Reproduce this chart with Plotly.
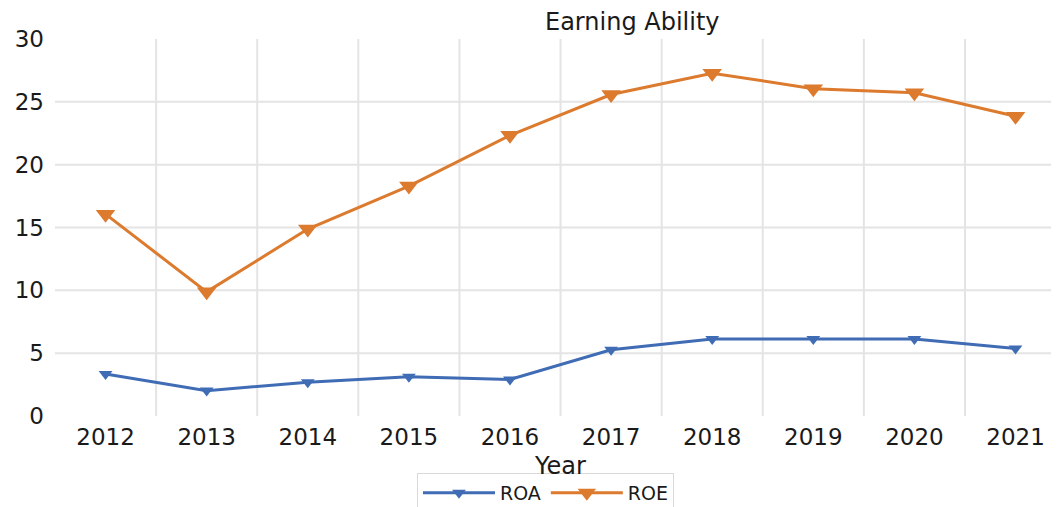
import plotly.graph_objects as go

years = ["2012", "2013", "2014", "2015", "2016", "2017", "2018", "2019", "2020", "2021"]
roa = [3.35, 2.02, 2.69, 3.12, 2.9, 5.27, 6.13, 6.13, 6.13, 5.38]
roe = [16.06, 9.88, 14.88, 18.3, 22.34, 25.58, 27.28, 26.05, 25.72, 23.85]
y_ticks = [0, 5, 10, 15, 20, 25, 30]

FONT = "DejaVu Sans"
TXT = "#1a1a1a"
BLUE = "#3F6CB4"
ORANGE = "#DC7A2E"
GRID = "#e4e4e4"

# page body has an 8px margin, so the figure is sized/offset to fill the window
W, H = 1051, 499
ML, MT, MB = 47, 31, 91
PW = W - ML
PH = H - MT - MB

fig = go.Figure()
fig.add_trace(go.Scatter(
    x=years, y=roa, name="ROA", mode="lines+markers",
    line=dict(color=BLUE, width=3),
    marker=dict(symbol="triangle-down", size=12, color=BLUE),
))
fig.add_trace(go.Scatter(
    x=years, y=roe, name="ROE", mode="lines+markers",
    line=dict(color=ORANGE, width=3),
    marker=dict(symbol="triangle-down", size=17, color=ORANGE),
))

shapes = []
for i in range(len(years) - 1):
    shapes.append(dict(type="line", xref="x", yref="y", x0=i + 0.5, x1=i + 0.5,
                       y0=0, y1=30, line=dict(color=GRID, width=2), layer="below"))
for v in y_ticks[1:-1]:
    shapes.append(dict(type="line", xref="paper", yref="y", x0=0, x1=1,
                       y0=v, y1=v, line=dict(color=GRID, width=2), layer="below"))

fig.update_layout(
    width=W, height=H,
    margin=dict(l=ML, r=0, t=MT, b=MB, autoexpand=False),
    paper_bgcolor="white", plot_bgcolor="white",
    font=dict(family=FONT, size=23, color=TXT),
    showlegend=True,
    legend=dict(orientation="h", x=(409 - ML) / PW, xanchor="left",
                y=-(469 - 8 - MT - PH + 4) / PH, yanchor="top",
                bordercolor="#d9d9d9", borderwidth=1, font=dict(size=19, color=TXT),
                itemwidth=72, tracegroupgap=0),
    shapes=shapes,
    xaxis=dict(type="category", range=[-0.5, 9.43], showgrid=False, zeroline=False,
               showline=False, ticks="", tickfont=dict(size=23, color=TXT),
               ticklabelstandoff=5, automargin=False),
    yaxis=dict(range=[0, 30], tickvals=y_ticks, showgrid=False, zeroline=False,
               showline=False, ticks="", tickfont=dict(size=23, color=TXT),
               ticklabelstandoff=10, automargin=False),
    annotations=[
        dict(text="Earning Ability", xref="paper", yref="paper",
             x=(624 - ML) / PW, y=1, yshift=17, xanchor="center", yanchor="middle",
             showarrow=False, font=dict(size=24, color=TXT)),
        dict(text="Year", xref="paper", yref="paper",
             x=(552 - ML) / PW, y=0, yshift=-50, xanchor="center", yanchor="middle",
             showarrow=False, font=dict(size=24, color=TXT)),
    ],
)

fig.write_html("out.html")
